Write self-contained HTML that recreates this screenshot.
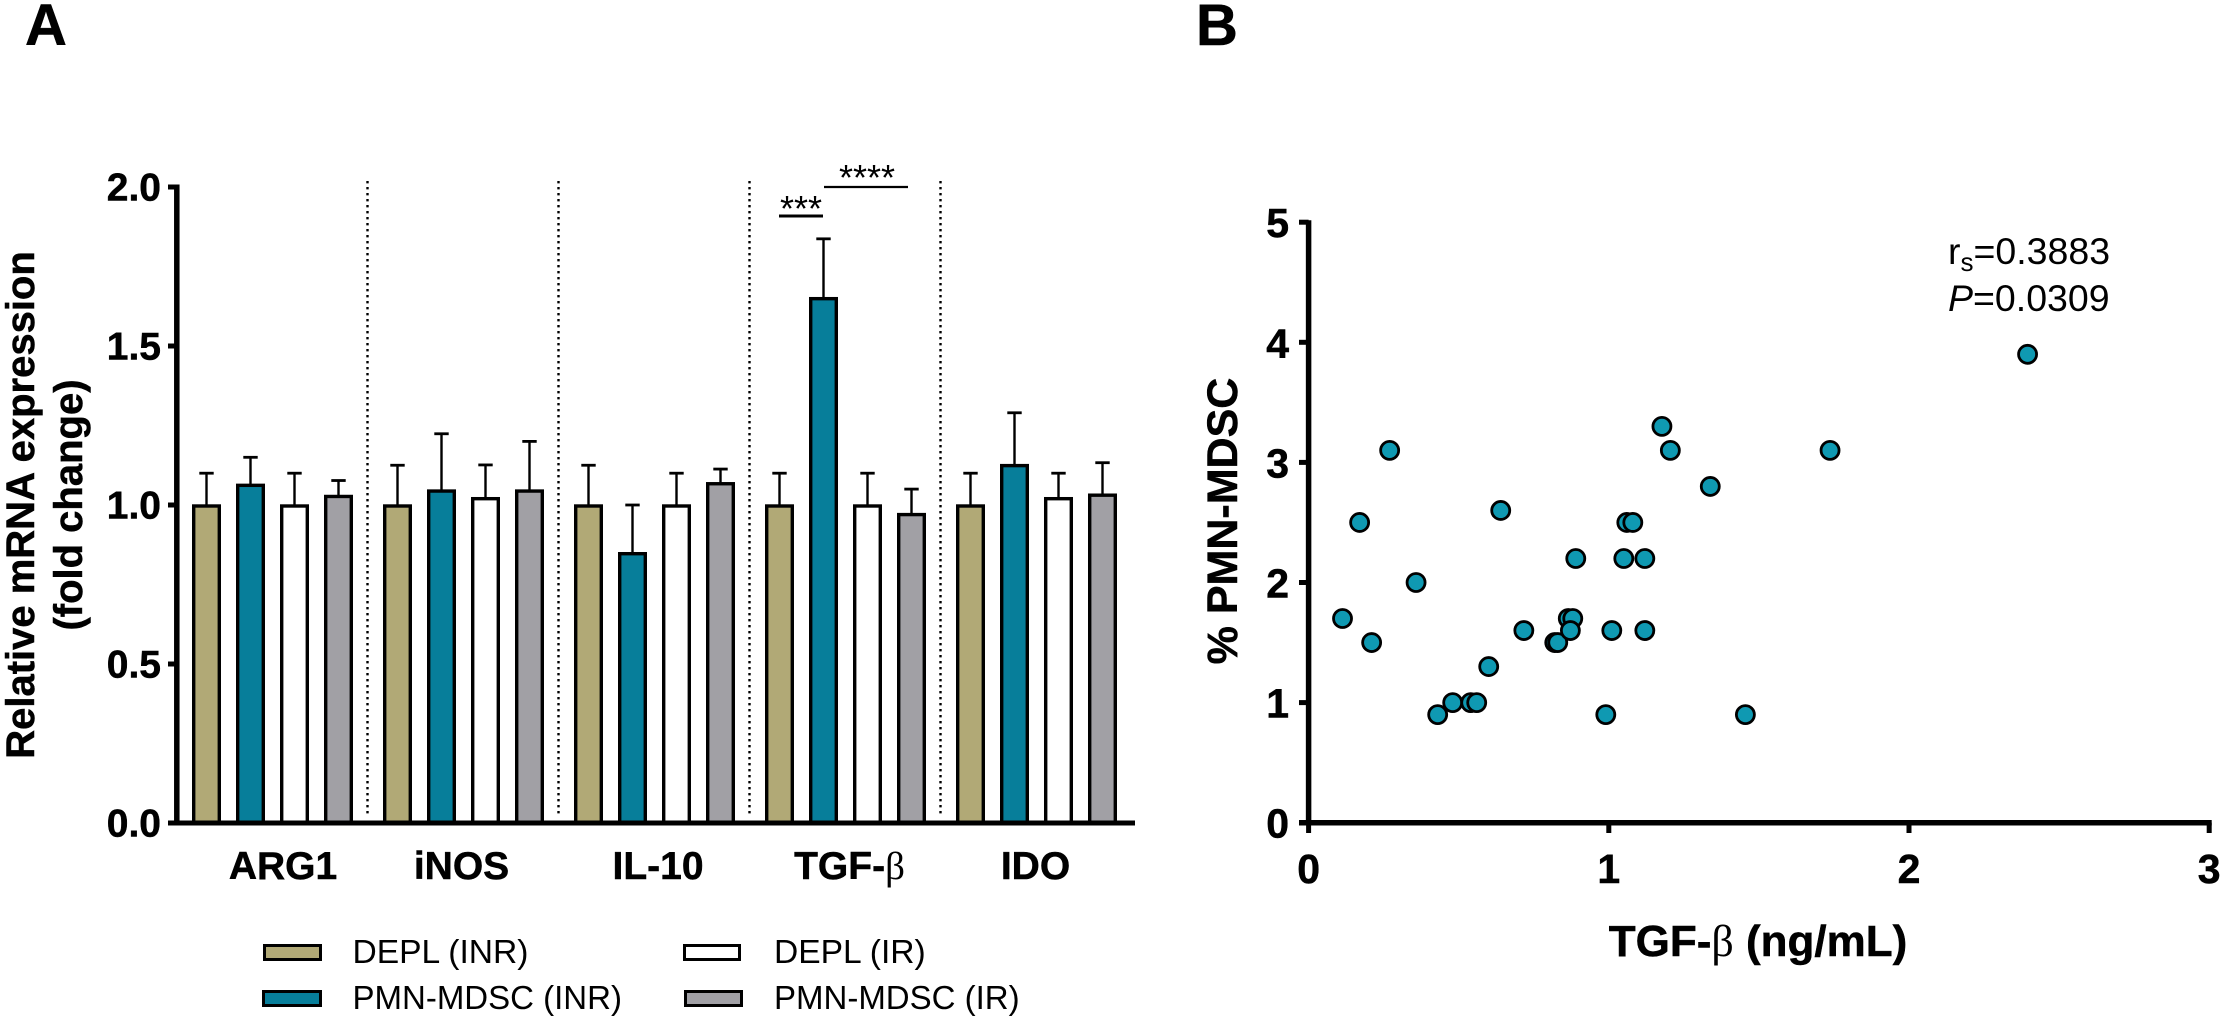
<!DOCTYPE html>
<html lang="en">
<head>
<meta charset="utf-8">
<title>mRNA expression and TGF-β correlation</title>
<style>
html,body{margin:0;padding:0;background:#fff;width:2222px;height:1020px;overflow:hidden}
svg{display:block}
text{font-family:"Liberation Sans",sans-serif;fill:#000}
.b{font-weight:bold;stroke:#000;stroke-width:.5px}
</style>
</head>
<body>
<svg id="fig" xmlns="http://www.w3.org/2000/svg" width="2222" height="1020" viewBox="0 0 2222 1020">
<rect width="2222" height="1020" fill="#fff"/>
<text class="b" x="25" y="45" font-size="58">A</text>
<text class="b" x="1196" y="45" font-size="58">B</text>

<g id="barChart"></g>
<text class="b" font-size="40" text-anchor="middle" transform="translate(34,505) rotate(-90)">Relative mRNA expression</text>
<text class="b" font-size="40" text-anchor="middle" transform="translate(82,505) rotate(-90)">(fold change)</text>

<g>
<line x1="779" x2="823" y1="216" y2="216" stroke="#000" stroke-width="3"/>
<text x="801" y="221" font-size="36" text-anchor="middle">***</text>
<line x1="824" x2="908" y1="187" y2="187" stroke="#000" stroke-width="2.2"/>
<text x="867" y="190" font-size="36" text-anchor="middle">****</text>
</g>

<g>
<rect x="264.5" y="945.5" width="56" height="14" fill="#B1A976" stroke="#000" stroke-width="3"/>
<text x="352.5" y="963" font-size="33.6">DEPL (INR)</text>
<rect x="263.5" y="991.5" width="57" height="14" fill="#077E9A" stroke="#000" stroke-width="3"/>
<text x="352.5" y="1009" font-size="33">PMN-MDSC (INR)</text>
<rect x="684.5" y="945.5" width="55" height="14" fill="#fff" stroke="#000" stroke-width="3"/>
<text x="774" y="963" font-size="33.6">DEPL (IR)</text>
<rect x="685.5" y="991.5" width="56" height="14" fill="#A1A0A5" stroke="#000" stroke-width="3"/>
<text x="774" y="1009" font-size="33">PMN-MDSC (IR)</text>
</g>

<g id="scatterChart"></g>
<text class="b" font-size="43" text-anchor="middle" transform="translate(1237,521) rotate(-90)">% PMN-MDSC</text>
<text class="b" font-size="44" text-anchor="middle" x="1758" y="956">TGF-<tspan font-family="'Liberation Serif',serif" font-weight="normal" stroke="none">β</tspan> (ng/mL)</text>
<text x="1948" y="264" font-size="37.5">r<tspan font-size="26" dy="7">s</tspan><tspan dy="-7">=0.3883</tspan></text>
<text x="1948" y="311" font-size="37.5"><tspan font-style="italic">P</tspan>=0.0309</text>
</svg>

<script>
// --- Panel A data ---
const genes = ['ARG1', 'iNOS', 'IL-10', 'TGF-', 'IDO'];
const barTicks = [0, 0.5, 1, 1.5, 2];
const barTickLabels = ['0.0', '0.5', '1.0', '1.5', '2.0'];
const deplInr = [1.0, 1.0, 1.0, 1.0, 1.0];
const deplInrUpper = [1.10, 1.125, 1.125, 1.10, 1.10];
const mdscInr = [1.065, 1.047, 0.85, 1.652, 1.127];
const mdscInrUpper = [1.15, 1.224, 1.0, 1.837, 1.29];
const deplIr = [1.0, 1.023, 1.0, 1.0, 1.023];
const deplIrUpper = [1.10, 1.126, 1.10, 1.10, 1.10];
const mdscIr = [1.03, 1.047, 1.07, 0.973, 1.034];
const mdscIrUpper = [1.077, 1.2, 1.113, 1.05, 1.133];

// --- Panel B data ---
const tgfBeta = [2.395, 1.177, 1.205, 0.27, 1.737, 1.338, 0.64, 0.17, 1.06, 1.08, 0.89, 1.05, 1.12, 0.358, 0.113, 0.865, 0.88, 0.21, 0.82, 0.83, 0.717, 0.872, 1.01, 1.12, 0.6, 0.48, 0.54, 0.56, 0.43, 0.99, 1.455];
const pmnMdsc = [3.9, 3.3, 3.1, 3.1, 3.1, 2.8, 2.6, 2.5, 2.5, 2.5, 2.2, 2.2, 2.2, 2.0, 1.7, 1.7, 1.7, 1.5, 1.5, 1.5, 1.6, 1.6, 1.6, 1.6, 1.3, 1.0, 1.0, 1.0, 0.9, 0.9, 0.9];
const scatterXTicks = [0, 1, 2, 3];
const scatterYTicks = [0, 1, 2, 3, 4, 5];

const NS = 'http://www.w3.org/2000/svg';
function mk(parent, tag, attrs, txt) {
  const el = document.createElementNS(NS, tag);
  for (const k in attrs) el.setAttribute(k, attrs[k]);
  if (txt !== undefined) el.textContent = txt;
  parent.appendChild(el);
  return el;
}

// Panel A axis functions
const barY = v => 823 - 318 * v;
const groupX = g => 192 + 191 * g;
const barX = (g, s) => groupX(g) + 44 * s;
const geneLabelCenter = name => {
  if (name === 'ARG1') return 283;
  if (name === 'iNOS') return 461.5;
  if (name === 'IL-10') return 658;
  if (name === 'IDO') return 1035.5;
  return 849.5;
};

const bc = document.getElementById('barChart');
const barSeries = [
  { vals: deplInr, up: deplInrUpper, fill: '#B1A976' },
  { vals: mdscInr, up: mdscInrUpper, fill: '#077E9A' },
  { vals: deplIr, up: deplIrUpper, fill: '#FFFFFF' },
  { vals: mdscIr, up: mdscIrUpper, fill: '#A1A0A5' }
];

// group separators
for (let g = 0; g < genes.length - 1; g++) {
  const lineX = groupX(g) + 175.5;
  const sep = mk(bc, 'line', { x1: lineX, x2: lineX, y1: barY(2) - 6, y2: barY(0) - 8, stroke: '#000', 'stroke-width': 2.4, 'stroke-dasharray': '2.4 3.6' });
  
  
}

// bars and error bars
barSeries.forEach((s, si) => {
  s.vals.forEach((v, g) => {
    const cx = barX(g, si) + 14.5;
    const stem = mk(bc, 'line', { x1: cx, x2: cx, y1: barY(v), y2: barY(s.up[g]), stroke: '#000', 'stroke-width': 2.4 });
    
    
    const cap = mk(bc, 'line', { x1: cx - 7.2, x2: cx + 7.2, y1: barY(s.up[g]), y2: barY(s.up[g]), stroke: '#000', 'stroke-width': 2.8 });
    
    
    const bar = mk(bc, 'rect', { x: barX(g, si) + 1.7, y: barY(v) + 1, width: 25.6, height: barY(0) - barY(v) - 1, fill: s.fill, stroke: '#000', 'stroke-width': 3.4 });
    
    
  });
});

// Panel A axes
const ay = mk(bc, 'line', { x1: 176.8, x2: 176.8, y1: barY(2) - 2.5, y2: barY(0) + 2.5, stroke: '#000', 'stroke-width': 5.5 });


const ax = mk(bc, 'line', { x1: 168, x2: 1135, y1: barY(0), y2: barY(0), stroke: '#000', 'stroke-width': 5 });


barTicks.forEach((t, i) => {
  const tk = mk(bc, 'line', { x1: 168, x2: 177, y1: barY(t), y2: barY(t), stroke: '#000', 'stroke-width': 5 });
  
  
  const lb = mk(bc, 'text', { x: 161, y: barY(t) + 13.5, 'font-size': 39, 'font-weight': 'bold', 'text-anchor': 'end', stroke: '#000', 'stroke-width': 0.5 }, barTickLabels[i]);
  
  
});
genes.forEach(name => {
  const lb = mk(bc, 'text', { x: geneLabelCenter(name), y: 879, 'font-size': 39, 'font-weight': 'bold', 'text-anchor': 'middle', stroke: '#000', 'stroke-width': 0.5 }, name);
  
  
  if (name === 'TGF-') {
    const beta = mk(lb, 'tspan', { 'font-family': "'Liberation Serif',serif", 'font-weight': 'normal', stroke: 'none' }, 'β');
    
    
  }
});

// Panel B axis functions
const sx = v => 1308.6 + 300.2 * v;
const sy = v => 822.7 - 120.1 * v;
const sc = document.getElementById('scatterChart');

const say = mk(sc, 'line', { x1: sx(0), x2: sx(0), y1: sy(5) - 2, y2: sy(0) + 2.5, stroke: '#000', 'stroke-width': 5.5 });


const sax = mk(sc, 'line', { x1: 1299, x2: sx(3) + 2.5, y1: sy(0), y2: sy(0), stroke: '#000', 'stroke-width': 5.5 });



scatterYTicks.forEach(t => {
  const tk = mk(sc, 'line', { x1: 1299, x2: sx(0), y1: sy(t), y2: sy(t), stroke: '#000', 'stroke-width': 5 });
  
  
  const lb = mk(sc, 'text', { x: 1289, y: sy(t) + 15, 'font-size': 41, 'font-weight': 'bold', 'text-anchor': 'end', stroke: '#000', 'stroke-width': 0.5 }, String(t));
  
  
});
scatterXTicks.forEach(t => {
  const tk = mk(sc, 'line', { x1: sx(t), x2: sx(t), y1: sy(0), y2: 833, stroke: '#000', 'stroke-width': 5 });
  
  
  const lb = mk(sc, 'text', { x: sx(t), y: 883, 'font-size': 41, 'font-weight': 'bold', 'text-anchor': 'middle', stroke: '#000', 'stroke-width': 0.5 }, String(t));
  
  
});
tgfBeta.forEach((v, i) => {
  const p = mk(sc, 'circle', { cx: sx(v), cy: sy(pmnMdsc[i]), r: 9, fill: '#0F99B2', stroke: '#000', 'stroke-width': 2.8 });
  
  
});
</script>
</body>
</html>
